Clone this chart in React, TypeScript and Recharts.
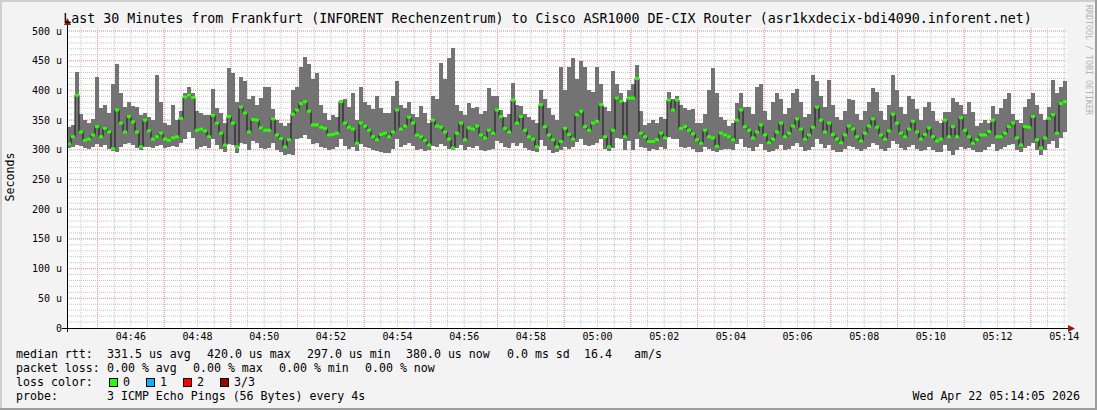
import React from 'react'
import { ComposedChart, Bar, Line, XAxis, YAxis, CartesianGrid } from 'recharts'

// median rtt per step (microseconds), 250 steps over 30 minutes
const medianRtt = [
  310, 322, 392, 330, 316, 318, 325, 339, 322, 336,
  330, 302, 367, 345, 330, 356, 347, 330, 305, 350,
  332, 318, 322, 328, 318, 316, 320, 322, 353, 389,
  392, 388, 333, 335, 332, 322, 358, 345, 328, 308,
  356, 345, 305, 372, 362, 330, 351, 350, 337, 333,
  333, 352, 325, 319, 305, 317, 360, 367, 378, 381,
  365, 342, 342, 338, 336, 325, 326, 328, 381, 345,
  338, 335, 311, 345, 340, 333, 322, 317, 326, 328,
  322, 330, 367, 335, 340, 355, 345, 325, 322, 316,
  308, 350, 340, 338, 330, 318, 303, 328, 345, 317,
  337, 335, 340, 325, 320, 333, 328, 367, 356, 336,
  330, 384, 345, 356, 333, 322, 318, 305, 376, 339,
  325, 317, 305, 314, 336, 326, 318, 359, 365, 339,
  333, 345, 348, 376, 322, 305, 333, 387, 382, 322,
  387, 387, 420, 328, 322, 314, 314, 317, 328, 320,
  384, 367, 384, 336, 339, 333, 327, 317, 311, 333,
  322, 320, 306, 328, 325, 322, 317, 350, 367, 339,
  333, 320, 330, 342, 325, 312, 318, 330, 345, 322,
  328, 340, 352, 335, 318, 325, 338, 372, 350, 330,
  345, 326, 318, 312, 325, 340, 335, 322, 315, 328,
  340, 352, 338, 325, 318, 332, 360, 345, 328, 322,
  335, 348, 330, 318, 326, 337, 322, 315, 318, 350,
  322, 339, 322, 354, 333, 322, 311, 317, 325, 325,
  331, 350, 322, 322, 328, 339, 345, 320, 308, 339,
  338, 356, 317, 303, 320, 353, 359, 328, 378, 381,
]

// slowest ping per step
const pingMax = [
  338, 342, 431, 360, 350, 345, 352, 423, 370, 375,
  362, 410, 445, 395, 372, 380, 373, 372, 358, 362,
  355, 350, 426, 380, 345, 342, 375, 350, 365, 395,
  406, 395, 365, 362, 358, 358, 403, 370, 362, 345,
  437, 430, 380, 423, 415, 385, 390, 375, 388, 406,
  406, 368, 350, 345, 340, 345, 400, 406, 440, 457,
  445, 420, 429, 375, 362, 350, 358, 355, 384, 385,
  372, 395, 350, 405, 381, 375, 368, 390, 370, 362,
  362, 390, 415, 375, 370, 380, 360, 356, 373, 362,
  345, 390, 385, 446, 420, 455, 471, 375, 365, 359,
  378, 370, 372, 360, 365, 404, 390, 390, 367, 356,
  360, 412, 375, 373, 360, 355, 350, 345, 401, 385,
  370, 358, 350, 440, 400, 440, 454, 420, 449, 440,
  400, 398, 440, 410, 372, 365, 432, 410, 395, 380,
  400, 410, 443, 365, 342, 345, 350, 345, 355, 352,
  398, 385, 390, 375, 370, 367, 368, 345, 345, 360,
  400, 437, 395, 355, 350, 340, 345, 378, 395, 372,
  372, 360, 405, 410, 365, 350, 380, 395, 385, 360,
  370, 395, 402, 380, 355, 360, 426, 415, 390, 372,
  417, 375, 355, 350, 365, 385, 384, 360, 350, 365,
  380, 404, 398, 365, 350, 375, 426, 400, 372, 360,
  390, 385, 368, 350, 372, 380, 365, 348, 345, 364,
  364, 387, 380, 375, 360, 380, 364, 340, 345, 350,
  345, 373, 360, 370, 385, 395, 360, 350, 345, 372,
  385, 395, 375, 360, 350, 372, 418, 395, 405, 415,
]

// fastest ping per step
const pingMin = [
  303, 305, 308, 306, 303, 302, 304, 310, 305, 308,
  301, 298, 297, 305, 310, 312, 308, 303, 300, 305,
  304, 303, 306, 308, 303, 305, 307, 304, 312, 318,
  330, 320, 302, 305, 306, 303, 318, 308, 302, 296,
  310, 308, 294, 312, 310, 300, 315, 312, 303, 301,
  303, 312, 300, 296, 291, 293, 291, 318, 320, 325,
  318, 310, 312, 305, 303, 300, 302, 305, 318, 306,
  302, 304, 298, 310, 305, 303, 300, 298, 296, 294,
  294, 301, 318, 305, 308, 312, 306, 300, 302, 298,
  300, 306, 305, 310, 306, 301, 300, 303, 308, 299,
  305, 303, 306, 300, 298, 299, 302, 315, 312, 304,
  303, 312, 306, 312, 303, 300, 298, 297, 316, 306,
  300, 294, 296, 300, 304, 302, 305, 313, 318, 308,
  306, 308, 312, 318, 302, 298, 303, 320, 318, 300,
  315, 300, 318, 305, 303, 298, 301, 300, 305, 302,
  322, 318, 318, 305, 303, 304, 302, 297, 296, 304,
  302, 298, 296, 300, 302, 301, 300, 310, 318, 305,
  303, 298, 305, 310, 300, 296, 298, 302, 308, 300,
  302, 306, 312, 305, 298, 300, 305, 318, 310, 303,
  308, 300, 296, 297, 301, 307, 305, 301, 298, 302,
  305, 312, 308, 302, 298, 303, 315, 310, 303, 300,
  304, 308, 302, 298, 300, 305, 300, 297, 296, 308,
  298, 291, 300, 305, 302, 303, 300, 297, 296, 299,
  305, 310, 298, 301, 304, 308, 310, 300, 296, 303,
  306, 312, 300, 291, 300, 310, 315, 303, 320, 330,
]

const startTime = '04:44:05'
const spanSeconds = 1800
const xTickLabels = [
  '04:46', '04:48', '04:50', '04:52', '04:54', '04:56', '04:58', '05:00',
  '05:02', '05:04', '05:06', '05:08', '05:10', '05:12', '05:14',
]
const yTicks = [0, 50, 100, 150, 200, 250, 300, 350, 400, 450, 500]

const legendRows = [
  [[16, 'median rtt:'], [107, '331.5 us avg'], [207, '420.0 us max'], [307, '297.0 us min'], [406, '380.0 us now'], [507, '0.0 ms sd'], [584, '16.4'], [634, 'am/s']],
  [[16, 'packet loss:'], [107, '0.00 % avg'], [193, '0.00 % max'], [279, '0.00 % min'], [365, '0.00 % now']],
  [[16, 'loss color:']],
  [[16, 'probe:'], [107, '3 ICMP Echo Pings (56 Bytes) every 4s']],
]
const lossColors = [
  { label: '0', color: '#26ff00' },
  { label: '1', color: '#00b8ff' },
  { label: '2', color: '#ff0000' },
  { label: '3/3', color: '#a00000' },
]

const toSec = (s: string) => {
  const [h, m, sec] = s.split(':').map(Number)
  return h * 3600 + m * 60 + (sec || 0)
}
const t0 = toSec(startTime)
const tickSecs = xTickLabels.map((l) => toSec(l) - t0)

// grid: minor every 30s / 10u, major every 2min (odd minutes) / 50u
const minorV: number[] = []
for (let t = 25; t < spanSeconds; t += 30) minorV.push(t)
const majorV: number[] = []
for (let t = 55; t < spanSeconds; t += 120) majorV.push(t)
const minorH: number[] = []
for (let v = 10; v <= 500; v += 10) minorH.push(v)
const majorH = yTicks.filter((v) => v > 0)

// each step sits in the middle of its time slot
const stepSec = spanSeconds / medianRtt.length
const data = medianRtt.map((m, i) => ({ t: (i + 0.5) * stepSec, med: m, lo: pingMin[i], hi: pingMax[i] }))

const mono = 'DejaVu Sans Mono'

const GreenDash = (p: any) => {
  if (p.cx == null || p.cy == null) return <g key={`g-${p.index}`} />
  return <rect key={`g-${p.index}`} x={p.cx - 2} y={p.cy - 1.5} width={4} height={3} fill="#26ff00" />
}

export default function App() {
  const fmtTime = (v: number) => {
    const idx = tickSecs.findIndex((s) => Math.abs(s - v) < 0.5)
    return idx >= 0 ? xTickLabels[idx] : ''
  }
  return (
    <div style={{ position: 'absolute', left: 0, top: 0, width: 1097, height: 410, background: '#f3f3f3', fontFamily: mono }}>
      <ComposedChart
        width={1097}
        height={410}
        data={data}
        margin={{ top: 28, right: 30, bottom: 52, left: 0 }}
        barCategoryGap={0}
        barGap={0}
      >
        <XAxis
          dataKey="t"
          type="number"
          domain={[0, spanSeconds]}
          ticks={tickSecs}
          tickFormatter={fmtTime}
          allowDataOverflow
          interval={0}
          axisLine={false}
          tickLine={false}
          tickSize={0}
          tickMargin={5}
          height={30}
          tick={{ fontSize: 10, fill: '#000', fontFamily: mono }}
        />
        <YAxis
          type="number"
          domain={[0, 505.05]}
          ticks={yTicks}
          allowDataOverflow
          width={67}
          axisLine={false}
          tickLine={false}
          tickSize={0}
          tickMargin={5}
          interval={0}
          tickFormatter={(v: number) => (v === 0 ? '0' : `${v} u`)}
          tick={{ fontSize: 10, fill: '#000', fontFamily: mono }}
        />
        <CartesianGrid
          fill="#ffffff"
          stroke="#c4c4c4"
          strokeDasharray="1 1"
          verticalValues={minorV}
          horizontalValues={minorH}
        />
        <CartesianGrid
          stroke="#f29a9a"
          strokeDasharray="1 1"
          verticalValues={majorV}
          horizontalValues={majorH}
        />
        <Bar
          dataKey={(d: any) => [d.lo, d.hi]}
          fill="#737373"
          shapeRendering="crispEdges"
          isAnimationActive={false}
        />
        <Line
          type="step"
          dataKey="med"
          stroke="#151515"
          strokeWidth={1}
          dot={false}
          activeDot={false}
          isAnimationActive={false}
        />
        <Line
          type="step"
          dataKey="med"
          stroke="none"
          dot={GreenDash}
          activeDot={false}
          isAnimationActive={false}
        />
      </ComposedChart>

      <svg
        width={1097}
        height={410}
        style={{ position: 'absolute', left: 0, top: 0, pointerEvents: 'none' }}
        fontFamily={mono}
      >
        {/* frame */}
        <rect x={0} y={0} width={1097} height={2} fill="#cfcfcf" />
        <rect x={0} y={0} width={2} height={410} fill="#cfcfcf" />
        <rect x={1095} y={0} width={2} height={410} fill="#9e9e9e" />
        <rect x={0} y={408} width={1097} height={2} fill="#9e9e9e" />

        {/* axes */}
        <line x1={62} y1={328.5} x2={1069} y2={328.5} stroke="#000" strokeWidth={1} />
        <polygon points="1068,325 1075,328.5 1068,332" fill="#8c1c1c" />
        <line x1={67.5} y1={332} x2={67.5} y2={24} stroke="#000" strokeWidth={1} />
        <polygon points="64,25 67.5,18 71,25" fill="#8c1c1c" />

        <text x={547.5} y={23} textAnchor="middle" fontSize={13.3} fill="#000">
          Last 30 Minutes from Frankfurt (INFORENT Rechenzentrum) to Cisco ASR1000 DE-CIX Router (asr1kxdecix-bdi4090.inforent.net)
        </text>
        <text
          x={10}
          y={177}
          textAnchor="middle"
          dominantBaseline="central"
          fontSize={11.6}
          transform="rotate(-90 10 177)"
          fill="#000"
        >
          Seconds
        </text>
        <text x={1086} y={5} fontSize={8.3} fill="#b4b4b4" transform="rotate(90 1086 5)">
          RRDTOOL / TOBI OETIKER
        </text>

        {legendRows.map((row, r) =>
          row.map(([x, s], k) => (
            <text key={`l-${r}-${k}`} x={x as number} y={358 + r * 14} fontSize={11.6} fill="#000">
              {s as string}
            </text>
          ))
        )}
        {lossColors.map((c, k) => (
          <g key={`lc-${k}`}>
            <rect x={109.5 + k * 37} y={378.5} width={8} height={8} fill={c.color} stroke="#000" strokeWidth={1} />
            <text x={123 + k * 37} y={386} fontSize={11.6} fill="#000">
              {c.label}
            </text>
          </g>
        ))}
        <text x={1080} y={400} textAnchor="end" fontSize={11.6} fill="#000">
          Wed Apr 22 05:14:05 2026
        </text>
      </svg>
    </div>
  )
}
